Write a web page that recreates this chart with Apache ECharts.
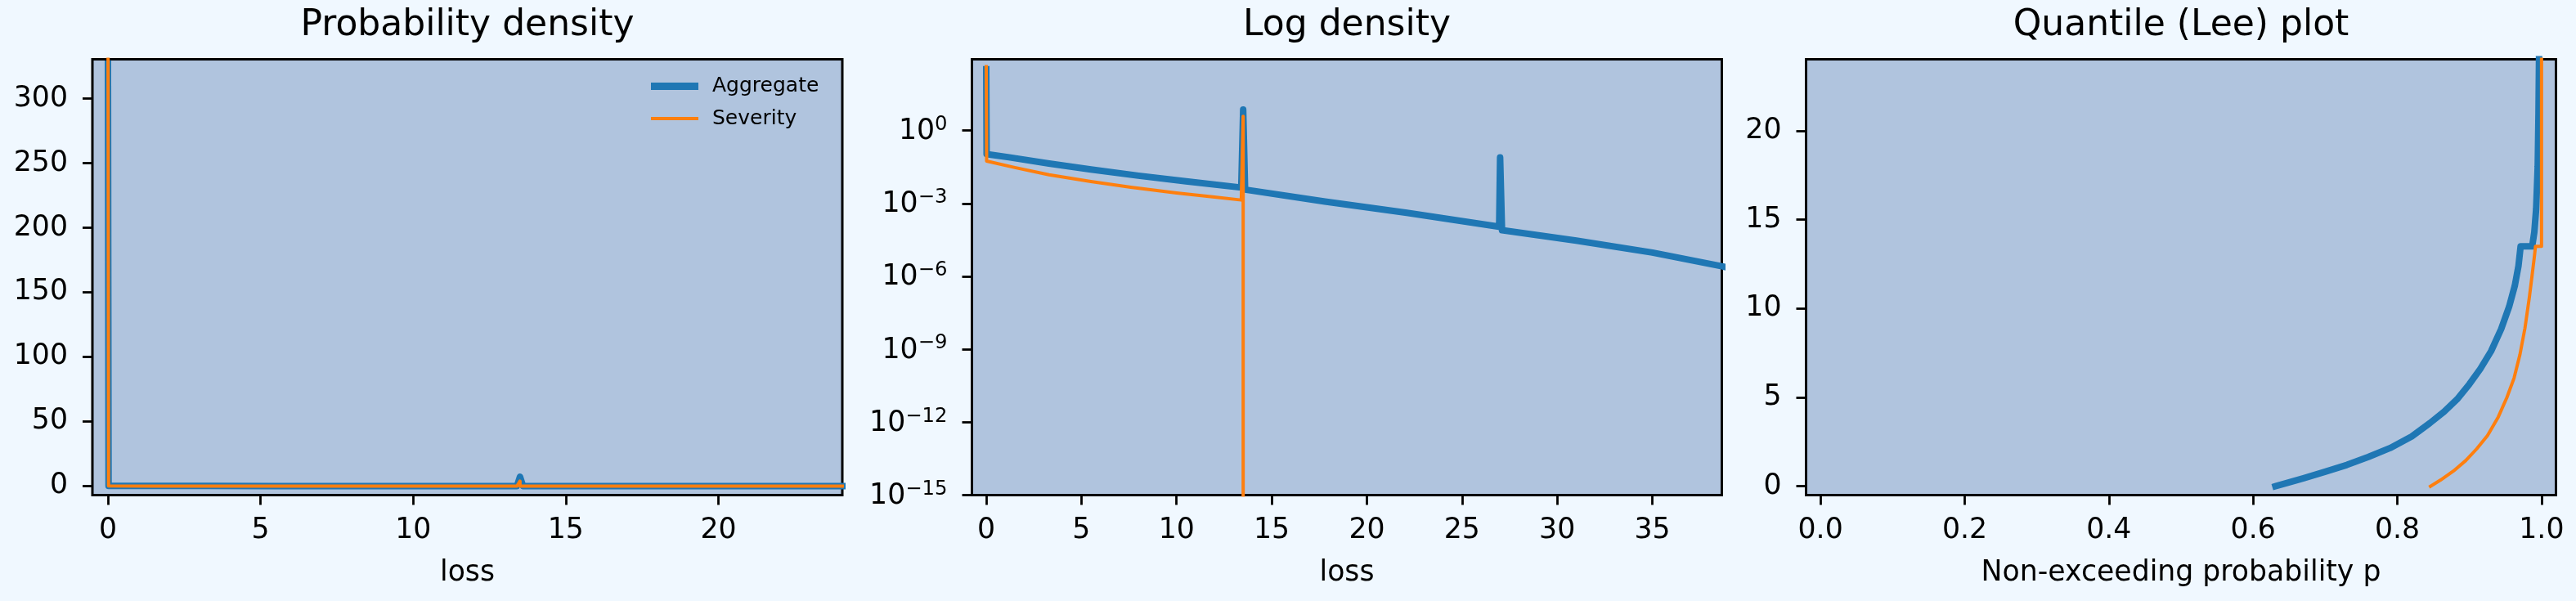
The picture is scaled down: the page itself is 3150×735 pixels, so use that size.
<!DOCTYPE html>
<html>
<head>
<meta charset="utf-8">
<script src="https://cdn.jsdelivr.net/npm/echarts@6/dist/echarts.min.js"></script>
<style>
  html, body { margin: 0; padding: 0; background: #f0f8ff; }
  #main { width: 3150px; height: 735px; }
</style>
</head>
<body>
<div id="main"></div>
<script>
// aggregate density
var aggLoss = [0, 0.02, 1.2, 3.3, 5.5, 8, 10.5, 13.4, 13.5, 13.6, 17.8, 22.1, 26.95, 27.0, 27.1, 31, 35, 38.65, 39.5];
var aggDensity = [327, 0.107, 0.079, 0.0437, 0.0251, 0.0138, 0.0081, 0.0045, 7.2, 0.0037, 0.0012, 0.00041, 0.00011, 0.078, 0.000079, 0.0000295, 0.0000095, 0.0000026, 0.0000019];

// severity density, zero after the limit
var sevLoss = [0, 0.02, 1.5, 3.3, 5.5, 7.6, 10, 11.9, 13.4, 13.5, 13.5, 40];
var sevDensity = [426, 0.055, 0.030, 0.0151, 0.0079, 0.0046, 0.0027, 0.00186, 0.00138, 3.86, 0, 0];

// quantile (Lee) plot
var aggP = [0.631, 0.65, 0.67, 0.70, 0.73, 0.76, 0.79, 0.82, 0.845, 0.865, 0.883, 0.90, 0.915, 0.93, 0.944, 0.955, 0.963, 0.968, 0.971,
            0.987, 0.990, 0.9925, 0.9947, 0.9958, 0.9966, 0.9972];
var aggQ = [0, 0.22, 0.45, 0.82, 1.2, 1.65, 2.15, 2.8, 3.55, 4.2, 4.9, 5.75, 6.6, 7.6, 8.85, 10.1, 11.3, 12.4, 13.5,
            13.5, 14.3, 15.6, 18.0, 21.0, 24.5, 28];
var sevP = [0.846, 0.86, 0.878, 0.895, 0.91, 0.925, 0.94, 0.952, 0.962, 0.970, 0.977, 0.983, 0.987, 0.990, 0.9916, 1.0, 1.0];
var sevQ = [0, 0.35, 0.86, 1.45, 2.1, 2.85, 3.9, 5.0, 6.1, 7.4, 8.9, 10.6, 11.9, 12.9, 13.5, 13.5, 28];

// tick labels
var densTicks = [0, 50, 100, 150, 200, 250, 300];
var lossTicks1 = [0, 5, 10, 15, 20];
var lossTicks2 = [0, 5, 10, 15, 20, 25, 30, 35];
var logTicks = [-15, -12, -9, -6, -3, 0];
var pTicks = [0, 0.2, 0.4, 0.6, 0.8, 1.0];
var qTicks = [0, 5, 10, 15, 20];

var FONT = '"DejaVu Sans", sans-serif';
var BLUE = '#1f77b4', ORANGE = '#ff7f0e';

function pairs(xs, ys) {
  return xs.map(function (x, i) { return [x, ys[i]]; });
}
function logPairs(xs, ys) {
  return xs.map(function (x, i) { return [x, ys[i] > 0 ? Math.log10(ys[i]) : -20]; });
}

function axis(gridIndex, min, max, ticks, fmt, name, isY) {
  var a = {
    type: 'value', gridIndex: gridIndex, min: min, max: max,
    axisLine: { show: false, onZero: false },
    axisTick: { show: true, inside: false, length: 12, customValues: ticks,
      lineStyle: { color: '#000', width: 2.8 } },
    axisLabel: { show: true, customValues: ticks, formatter: fmt,
      margin: isY ? 30 : 26, color: '#000', fontSize: 34.7, fontFamily: FONT },
    splitLine: { show: false }
  };
  if (name) {
    a.name = name;
    a.nameLocation = 'middle';
    a.nameGap = 78;
    a.nameTextStyle = { color: '#000', fontSize: 34.7, fontFamily: FONT };
  }
  return a;
}

function num(v) { return String(v); }
function sup(v) {
  var e = v < 0 ? '\u2212' + (-v) : String(v);
  return '{b|10}{s|' + e + '}';
}

var lineBlue = { color: BLUE, width: 8, cap: 'square', join: 'round' };
var lineOrange = { color: ORANGE, width: 4, cap: 'square', join: 'round' };

function series(name, xi, data, ls, color) {
  return { type: 'line', name: name, xAxisIndex: xi, yAxisIndex: xi, data: data,
    showSymbol: false, symbol: 'none', lineStyle: ls, itemStyle: { color: color },
    animation: false };
}

var gridBase = { top: 72.5, height: 533, width: 917, show: true,
  backgroundColor: '#b0c4de', borderColor: '#000', borderWidth: 3, outerBoundsMode: 'none' };

var logAxis = axis(1, -15, 2.93, logTicks, sup, null, true);
logAxis.axisLabel.rich = {
  b: { fontSize: 34.7, fontFamily: FONT, color: '#000', padding: [3, 0, 0, 0] },
  s: { fontSize: 24.3, fontFamily: FONT, color: '#000', verticalAlign: 'top' }
};

var chart = echarts.init(document.getElementById('main'));
chart.setOption({
  backgroundColor: '#f0f8ff',
  animation: false,
  grid: [
    Object.assign({}, gridBase, { left: 113 }),
    Object.assign({}, gridBase, { left: 1188.5 }),
    Object.assign({}, gridBase, { left: 2208.5 })
  ],
  xAxis: [
    axis(0, -0.509, 24.06, lossTicks1, num, 'loss'),
    axis(1, -0.752, 38.65, lossTicks2, num, 'loss'),
    axis(2, -0.02, 1.02, pTicks, function (v) { return v.toFixed(1); }, 'Non-exceeding probability p')
  ],
  yAxis: [
    axis(0, -7, 330.4, densTicks, num, null, true),
    logAxis,
    axis(2, -0.5, 24.03, qTicks, num, null, true)
  ],
  legend: [
    { data: ['Aggregate'], left: 796, top: 93, padding: 0, icon: 'rect', itemWidth: 58, itemHeight: 9,
      itemStyle: { borderWidth: 0 },
      textStyle: { color: '#000', fontSize: 25, fontFamily: FONT, padding: [0, 0, 0, 12] } },
    { data: ['Severity'], left: 796, top: 132.5, padding: 0, icon: 'rect', itemWidth: 58, itemHeight: 4,
      itemStyle: { borderWidth: 0 },
      textStyle: { color: '#000', fontSize: 25, fontFamily: FONT, padding: [0, 0, 0, 12] } }
  ],
  graphic: [
    { type: 'text', x: 571.5, y: 31.5, style: { text: 'Probability density', fill: '#000',
      fontSize: 44, fontFamily: FONT, align: 'center', verticalAlign: 'middle',
      textAlign: 'center', textVerticalAlign: 'middle' } },
    { type: 'text', x: 1647, y: 31.5, style: { text: 'Log density', fill: '#000',
      fontSize: 44, fontFamily: FONT, align: 'center', verticalAlign: 'middle',
      textAlign: 'center', textVerticalAlign: 'middle' } },
    { type: 'text', x: 2667, y: 31.5, style: { text: 'Quantile (Lee) plot', fill: '#000',
      fontSize: 44, fontFamily: FONT, align: 'center', verticalAlign: 'middle',
      textAlign: 'center', textVerticalAlign: 'middle' } }
  ],
  series: [
    series('Aggregate', 0, pairs(aggLoss, aggDensity), lineBlue, BLUE),
    series('Severity', 0, pairs(sevLoss, sevDensity), lineOrange, ORANGE),
    series('Aggregate', 1, logPairs(aggLoss, aggDensity), lineBlue, BLUE),
    series('Severity', 1, logPairs(sevLoss, sevDensity), lineOrange, ORANGE),
    series('Aggregate', 2, pairs(aggP, aggQ), lineBlue, BLUE),
    series('Severity', 2, pairs(sevP, sevQ), lineOrange, ORANGE)
  ]
});
</script>
</body>
</html>
